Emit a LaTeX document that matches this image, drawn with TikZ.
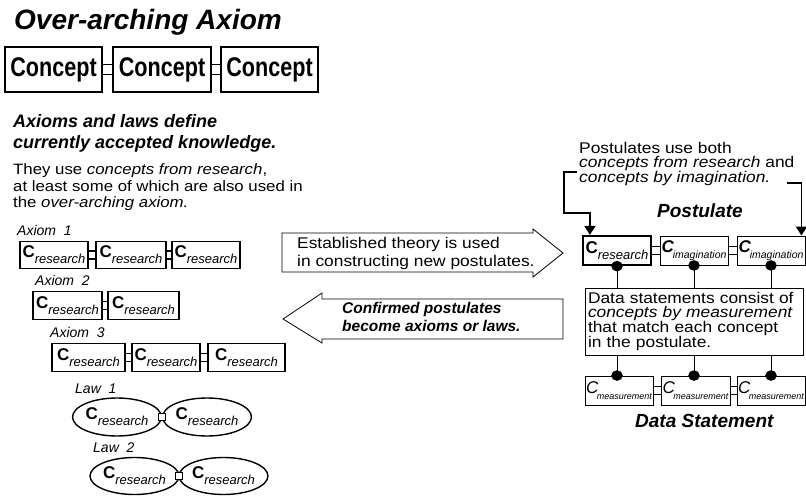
\documentclass[tikz,border=0pt]{standalone}
\usepackage{fontspec}
\setmainfont{Liberation Sans}
\newfontfamily\widesans[FakeStretch=1.12]{Liberation Sans}
\usetikzlibrary{shapes.geometric,arrows.meta}
\newcommand{\fsz}[2]{\fontsize{#1}{#2}\selectfont}
\newcommand{\cres}{{\fsz{17}{17}\bfseries C}\raisebox{-6pt}{\fsz{13}{13}\itshape research}}
\newcommand{\cimag}{{\fsz{17}{17}\bfseries\itshape C}\kern-1pt\raisebox{-6pt}{\fsz{10.5}{10.5}\itshape imagination}}
\newcommand{\cmeas}{{\fsz{17}{17}\itshape C}\kern-1.5pt\raisebox{-6pt}{\fsz{9}{9}\itshape measurement}}
\newcommand{\concept}{\scalebox{0.8}[1]{\fsz{27}{27}\bfseries Concept}}
\newcommand{\joinpair}[3]{\draw[lnk] ([yshift=#3]#1.east) -- ([yshift=#3]#2.west) ([yshift=-#3]#1.east) -- ([yshift=-#3]#2.west);}
\begin{document}
\begin{tikzpicture}[x=1pt,y=-1pt,
  box/.style={draw, line width=1.6pt, inner sep=0pt, minimum height=27pt},
  thinbox/.style={draw, line width=0.9pt, inner sep=0pt, minimum height=29pt},
  oval/.style={draw, ellipse, line width=1.4pt, inner sep=0pt, minimum height=38pt},
  lnk/.style={line width=1.1pt},
  sqlink/.style={draw, fill=white, line width=1.2pt, minimum size=7pt, inner sep=0pt},
  brk/.style={line width=1.8pt, -{Triangle[width=11pt,length=9pt]}},
  dot/.style={draw, ellipse, fill, inner sep=0pt, minimum width=11pt, minimum height=10pt},
  fat/.style={draw, line width=0.8pt, fill=white},
  lbl/.style={anchor=base west, inner sep=0pt, align=left}]
\useasboundingbox[fill=white] (0,0) rectangle (806,497);

% over-arching axiom
\node[lbl, font=\fsz{28}{28}\bfseries\itshape] (title) at (14,30) {Over-arching Axiom};
\node[box, line width=2pt, minimum width=97pt, minimum height=45pt] (k1) at (53.5,69.5) {\concept};
\node[box, line width=2pt, minimum width=98pt, minimum height=45pt] (k2) at (162,69.5) {\concept};
\node[box, line width=2pt, minimum width=97pt, minimum height=45pt] (k3) at (269.5,69.5) {\concept};
\joinpair{k1}{k2}{5pt}
\joinpair{k2}{k3}{5pt}

% base anchor of a multi-line label = its last line
\node[lbl, font=\fsz{18}{21}\bfseries\itshape] (axhead) at (13,149) {Axioms and laws define\\currently accepted knowledge.};
\node[lbl, font=\widesans\fsz{15}{16.5}] (axtext) at (13,208) {They use \textit{concepts from research},\\ at least some of which are also used in\\the \textit{over-arching axiom.}};

% axioms
\node[lbl, font=\fsz{14}{14}\itshape] (ax1lbl) at (17,236) {Axiom\ \ 1};
\node[box, minimum width=68pt] (a11) at (54,255) {\cres};
\node[box, minimum width=70pt] (a12) at (131,255) {\cres};
\node[box, minimum width=68pt] (a13) at (206,255) {\cres};
\joinpair{a11}{a12}{4pt}
\joinpair{a12}{a13}{4pt}

\node[lbl, font=\fsz{14}{14}\itshape] (ax2lbl) at (35,285) {Axiom\ \ 2};
\node[box, minimum width=69pt, minimum height=28pt] (a21) at (67.5,305.5) {\cres};
\node[box, minimum width=71pt, minimum height=28pt] (a22) at (143.5,305.5) {\cres};
\joinpair{a21}{a22}{4pt}

\node[lbl, font=\fsz{14}{14}\itshape] (ax3lbl) at (50,337) {Axiom\ \ 3};
\node[box, minimum width=73pt, minimum height=28pt] (a31) at (88.5,357.5) {\cres};
\node[box, minimum width=68pt, minimum height=28pt] (a32) at (166,357.5) {\cres};
\node[box, minimum width=77pt, minimum height=28pt] (a33) at (246.5,357.5) {\cres};
\joinpair{a31}{a32}{4pt}
\joinpair{a32}{a33}{4pt}

% laws
\node[lbl, font=\fsz{14}{14}\itshape] (law1lbl) at (75,393) {Law\ \ 1};
\node[oval, minimum width=88pt] (l11) at (117,417) {\cres};
\node[oval, minimum width=86pt] (l12) at (207,417) {\cres};
\path (l11.east) -- (l12.west) node[midway, sqlink] {};

\node[lbl, font=\fsz{14}{14}\itshape] (law2lbl) at (93,452) {Law\ \ 2};
\node[oval, minimum width=89pt, minimum height=37pt] (l21) at (134.5,476) {\cres};
\node[oval, minimum width=87pt, minimum height=37pt] (l22) at (223.5,476) {\cres};
\path (l21.east) -- (l22.west) node[midway, sqlink] {};

% exchange arrows
\draw[fat] (282,233) -- (533,233) -- (533,229) -- (563,253) -- (533,277) -- (533,272) -- (282,272) -- cycle;
\node[lbl, font=\widesans\fsz{15.5}{18}] (uptext) at (297,266) {Established theory is used\\in constructing new postulates.};
\draw[fat] (563,299) -- (322,299) -- (322,293) -- (283,319) -- (322,343) -- (322,339) -- (563,339) -- cycle;
\node[lbl, font=\fsz{15.5}{18}\bfseries\itshape] (downtext) at (342,331) {Confirmed postulates\\become axioms or laws.};

% postulate
\node[lbl, font=\widesans\fsz{15.5}{14}] (posttext) at (579,183) {Postulates use both\\\textit{concepts from research} and\\\textit{concepts by imagination.}};
\node[lbl, font=\fsz{19}{19}\bfseries\itshape] (posthead) at (657,218) {Postulate};
\node[thinbox, line width=2.2pt, minimum width=68pt] (p1) at (617,250.5) {\cres};
\node[thinbox, minimum width=68pt] (p2) at (694,250.5) {\cimag};
\node[thinbox, minimum width=68pt] (p3) at (771,250.5) {\cimag};
\joinpair{p1}{p2}{4pt}
\joinpair{p2}{p3}{4pt}
\coordinate (tickL) at (577,172);
\coordinate (tickR) at (787,183);
\draw[brk] (tickL) -- ++(-13,0) -- ++(0,41) -| ([xshift=8pt]p1.north west);
\draw[brk] (tickR) -| ([xshift=-4pt]p3.north east);

% data statement
\node[draw, line width=0.9pt, minimum width=218pt, minimum height=67pt, text width=212pt, inner sep=3pt, align=left, font=\widesans\fsz{15.5}{14}] (data) at (694,321.5) {Data statements consist of\\\textit{concepts by measurement}\\that match each concept\\in the postulate.};
\node[thinbox, minimum width=68pt] (m1) at (619,390.5) {\cmeas};
\node[thinbox, minimum width=69pt] (m2) at (695.5,390.5) {\cmeas};
\node[thinbox, minimum width=68pt] (m3) at (771,390.5) {\cmeas};
\joinpair{m1}{m2}{4pt}
\joinpair{m2}{m3}{4pt}
\node[lbl, font=\fsz{19}{19}\bfseries\itshape] (datahead) at (635,427) {Data Statement};

\foreach \p/\m in {p1/m1, p2/m2, p3/m3} {
  \draw[line width=0.9pt] (\p.south) -- (data.north -| \p.south);
  \draw[line width=0.9pt] (data.south -| \p.south) -- (\m.north -| \p.south);
  \node[dot] at (\p.south) {};
  \node[dot] at (\m.north -| \p.south) {};
}
\end{tikzpicture}
\end{document}
